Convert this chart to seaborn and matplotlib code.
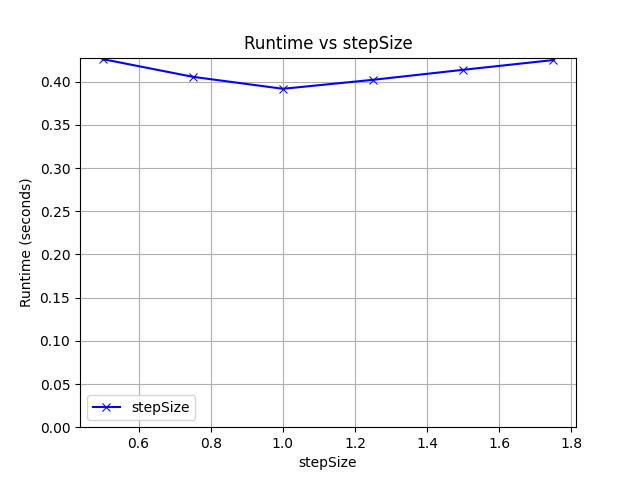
import matplotlib
matplotlib.use('Agg')
import matplotlib.pyplot as plt
import seaborn as sns
import pandas as pd

# Runtime measurements per step size
step_sizes = [0.5, 0.75, 1.0, 1.25, 1.5, 1.75]
runtimes = [0.4263, 0.4058, 0.3919, 0.4023, 0.4139, 0.4252]

df = pd.DataFrame({'stepSize': step_sizes, 'Runtime': runtimes})

fig, ax = plt.subplots(figsize=(6.4, 4.8), dpi=100)
sns.lineplot(data=df, x='stepSize', y='Runtime', marker='x', color='blue',
             markeredgecolor='blue', markersize=6, linewidth=1.5,
             label='stepSize', ax=ax)
ax.set_ylim(bottom=0)
ax.grid(True)
ax.set_title('Runtime vs stepSize')
ax.set_xlabel('stepSize')
ax.set_ylabel('Runtime (seconds)')
ax.legend(loc='lower left')

plt.savefig('out.png')
